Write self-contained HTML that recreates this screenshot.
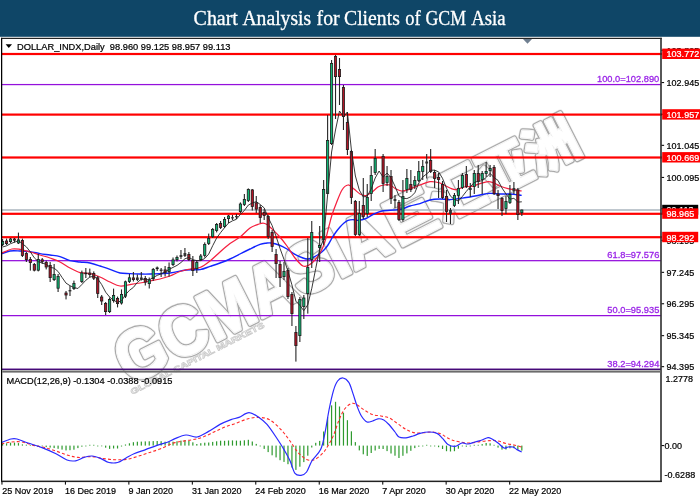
<!DOCTYPE html>
<html lang="en"><head><meta charset="utf-8"><title>Chart Analysis for Clients of GCM Asia</title>
<style>html,body{margin:0;padding:0;background:#fff;width:700px;height:500px;overflow:hidden}svg{display:block}text{font-family:"Liberation Sans","DejaVu Sans",sans-serif;font-size:9.6px;fill:#000;stroke:#000;stroke-width:.22px}.t{font-family:"Liberation Serif","DejaVu Serif",serif;font-size:20px;fill:#fff;stroke:#fff;stroke-width:.3px}.p{fill:#9b25e8;stroke:#9b25e8;stroke-width:.3px}.w{fill:#fff;stroke:#fff;stroke-width:.25px}.wm0,.wm,.wm2,.wm3,.wm4,.wm5{font-family:"Liberation Sans","Noto Sans CJK SC",sans-serif;font-weight:bold;stroke-linejoin:round}.wm0{fill:#ececec;stroke:#ececec;stroke-width:6.6px}.wm{fill:#a9a9a9;stroke:#a9a9a9;stroke-width:5.5px}.wm2{fill:#fff;stroke:#fff;stroke-width:3.1px}.wm4{fill:#ededed;stroke:#ededed;stroke-width:2px}.wm5{fill:#fff;stroke:#fff;stroke-width:.8px}.wm3{font-size:8px;fill:#fff;stroke:#cbcbcb;stroke-width:.75px}</style></head><body>
<svg width="700" height="500" viewBox="0 0 700 500">
<rect width="700" height="500" fill="#fff"/>
<rect width="700" height="36.8" fill="#0f4667"/>
<text class="t" x="193.6" y="25" textLength="44.3" lengthAdjust="spacingAndGlyphs">Chart</text>
<text class="t" x="242.4" y="25" textLength="68.8" lengthAdjust="spacingAndGlyphs">Analysis</text>
<text class="t" x="316.6" y="25" textLength="23.0" lengthAdjust="spacingAndGlyphs">for</text>
<text class="t" x="344.0" y="25" textLength="55.8" lengthAdjust="spacingAndGlyphs">Clients</text>
<text class="t" x="405.2" y="25" textLength="15.4" lengthAdjust="spacingAndGlyphs">of</text>
<text class="t" x="425.4" y="25" textLength="40.6" lengthAdjust="spacingAndGlyphs">GCM</text>
<text class="t" x="471.2" y="25" textLength="34.4" lengthAdjust="spacingAndGlyphs">Asia</text>
<g transform="translate(129.7,385.4) rotate(-27)">
<text class="wm0" x="0" y="0" style="font-size:70px" textLength="298" lengthAdjust="spacingAndGlyphs">GCMASIA</text>
<text class="wm0" x="300" y="-3" style="font-size:54px" textLength="211" lengthAdjust="spacingAndGlyphs">巨汇亚洲</text>
<text class="wm" x="0" y="0" style="font-size:70px" textLength="298" lengthAdjust="spacingAndGlyphs">GCMASIA</text>
<text class="wm" x="300" y="-3" style="font-size:54px" textLength="211" lengthAdjust="spacingAndGlyphs">巨汇亚洲</text>
<text class="wm2" x="0" y="0" style="font-size:70px" textLength="298" lengthAdjust="spacingAndGlyphs">GCMASIA</text>
<text class="wm2" x="300" y="-3" style="font-size:54px" textLength="211" lengthAdjust="spacingAndGlyphs">巨汇亚洲</text>
<text class="wm4" x="0" y="0" style="font-size:70px" textLength="298" lengthAdjust="spacingAndGlyphs">GCMASIA</text>
<text class="wm4" x="300" y="-3" style="font-size:54px" textLength="211" lengthAdjust="spacingAndGlyphs">巨汇亚洲</text>
<text class="wm5" x="0" y="0" style="font-size:70px" textLength="298" lengthAdjust="spacingAndGlyphs">GCMASIA</text>
<text class="wm5" x="300" y="-3" style="font-size:54px" textLength="211" lengthAdjust="spacingAndGlyphs">巨汇亚洲</text>
<text class="wm3" x="-2" y="9.5" textLength="149" lengthAdjust="spacingAndGlyphs">GLOBAL CAPITAL MARKETS</text>
</g>
<g shape-rendering="auto">
<rect x="2" y="209.3" width="659" height="1.4" fill="#a4afba"/>
<rect x="2" y="83.95" width="659" height="1.25" fill="#9410dc"/>
<rect x="2" y="260.05" width="659" height="1.25" fill="#9410dc"/>
<rect x="2" y="315.00" width="659" height="1.25" fill="#9410dc"/>
<rect x="2" y="368.75" width="659" height="1.25" fill="#9410dc"/>
<rect x="2" y="52.9" width="660" height="2.2" fill="#ff0000"/>
<rect x="2" y="113.5" width="660" height="2.2" fill="#ff0000"/>
<rect x="2" y="156.4" width="660" height="2.2" fill="#ff0000"/>
<rect x="2" y="212.7" width="660" height="2.2" fill="#ff0000"/>
<rect x="2" y="236.1" width="660" height="2.2" fill="#ff0000"/>
</g>
<path d="M2.0 253.6 C3.3 253.2 7.0 251.4 10.0 251.0 C13.0 250.6 16.7 250.9 20.0 251.0 C23.3 251.1 26.7 251.2 30.0 251.6 C33.3 252.0 36.7 253.0 40.0 253.6 C43.3 254.2 46.7 254.5 50.0 255.0 C53.3 255.5 56.7 255.7 60.0 256.6 C63.3 257.5 66.7 259.7 70.0 260.6 C73.3 261.5 76.7 261.6 80.0 262.0 C83.3 262.4 86.7 262.3 90.0 263.0 C93.3 263.7 96.7 264.9 100.0 266.0 C103.3 267.1 106.7 268.2 110.0 269.4 C113.3 270.6 116.7 272.3 120.0 273.0 C123.3 273.7 126.7 273.4 130.0 273.6 C133.3 273.8 136.7 273.9 140.0 274.0 C143.3 274.1 145.0 274.2 150.0 274.0 C155.0 273.8 164.0 273.7 170.0 273.0 C176.0 272.3 181.0 270.6 186.0 270.0 C191.0 269.4 196.0 270.2 200.0 269.6 C204.0 269.0 206.7 267.5 210.0 266.4 C213.3 265.3 216.7 264.2 220.0 263.0 C223.3 261.8 226.7 260.5 230.0 259.0 C233.3 257.5 236.7 255.7 240.0 254.0 C243.3 252.3 246.7 250.6 250.0 249.0 C253.3 247.4 257.3 245.4 260.0 244.4 C262.7 243.4 264.2 243.4 266.0 243.2 C267.8 243.0 268.8 242.7 271.0 243.0 C273.2 243.3 276.3 244.0 279.0 245.0 C281.7 246.0 284.3 247.4 287.0 249.0 C289.7 250.6 292.3 252.9 295.0 254.4 C297.7 255.9 300.8 257.2 303.0 258.0 C305.2 258.8 306.3 259.1 308.0 259.0 C309.7 258.9 311.2 258.3 313.0 257.5 C314.8 256.7 317.2 255.2 319.0 254.0 C320.8 252.8 322.5 251.5 324.0 250.0 C325.5 248.5 326.7 247.0 328.0 245.0 C329.3 243.0 330.7 240.2 332.0 238.0 C333.3 235.8 334.7 233.8 336.0 232.0 C337.3 230.2 338.7 228.5 340.0 227.0 C341.3 225.5 342.7 224.1 344.0 223.0 C345.3 221.9 346.5 221.0 348.0 220.4 C349.5 219.8 351.3 219.6 353.0 219.6 C354.7 219.6 355.8 220.6 358.0 220.4 C360.2 220.2 363.3 219.6 366.0 218.5 C368.7 217.4 371.3 215.2 374.0 214.0 C376.7 212.8 378.7 211.7 382.0 211.0 C385.3 210.3 390.7 210.3 394.0 210.0 C397.3 209.7 399.3 209.7 402.0 209.0 C404.7 208.3 407.0 206.9 410.0 206.0 C413.0 205.1 416.7 204.6 420.0 203.6 C423.3 202.6 426.7 200.8 430.0 200.0 C433.3 199.2 436.7 199.1 440.0 199.0 C443.3 198.9 446.7 199.7 450.0 199.6 C453.3 199.5 456.7 198.8 460.0 198.4 C463.3 198.0 466.7 197.6 470.0 197.0 C473.3 196.4 476.7 195.6 480.0 195.0 C483.3 194.4 486.7 193.6 490.0 193.4 C493.3 193.2 496.7 193.9 500.0 194.0 C503.3 194.1 506.4 193.8 510.0 194.0 C513.6 194.2 519.8 195.2 521.7 195.4" fill="none" stroke="#1224ff" stroke-width="1.4"/>
<path d="M2.0 253.0 C3.7 252.3 9.0 249.6 12.0 249.0 C15.0 248.4 17.0 248.9 20.0 249.4 C23.0 249.9 26.7 251.1 30.0 252.0 C33.3 252.9 36.7 254.0 40.0 255.0 C43.3 256.0 46.7 256.8 50.0 258.0 C53.3 259.2 56.7 260.3 60.0 262.0 C63.3 263.7 66.7 266.2 70.0 268.0 C73.3 269.8 76.7 271.7 80.0 272.6 C83.3 273.5 86.7 272.8 90.0 273.5 C93.3 274.2 96.7 275.6 100.0 277.0 C103.3 278.4 106.7 280.5 110.0 282.0 C113.3 283.5 116.7 285.6 120.0 286.0 C123.3 286.4 126.7 285.1 130.0 284.6 C133.3 284.1 136.7 283.6 140.0 283.0 C143.3 282.4 146.7 281.7 150.0 281.0 C153.3 280.3 156.7 279.8 160.0 279.0 C163.3 278.2 166.7 277.2 170.0 276.0 C173.3 274.8 176.7 272.7 180.0 271.5 C183.3 270.3 186.7 269.7 190.0 269.0 C193.3 268.3 196.7 268.8 200.0 267.5 C203.3 266.2 206.7 263.6 210.0 261.0 C213.3 258.4 216.7 254.9 220.0 252.0 C223.3 249.1 226.7 246.1 230.0 243.6 C233.3 241.1 236.7 239.6 240.0 237.0 C243.3 234.4 247.0 230.1 250.0 228.0 C253.0 225.9 255.8 225.2 258.0 224.4 C260.2 223.6 261.5 223.0 263.0 223.0 C264.5 223.0 265.7 223.7 267.0 224.5 C268.3 225.3 269.0 226.1 271.0 228.0 C273.0 229.9 276.3 233.0 279.0 236.0 C281.7 239.0 284.3 242.3 287.0 246.0 C289.7 249.7 292.3 254.7 295.0 258.0 C297.7 261.3 300.7 264.8 303.0 266.0 C305.3 267.2 307.0 266.0 309.0 265.0 C311.0 264.0 313.2 262.0 315.0 260.0 C316.8 258.0 318.7 255.2 320.0 253.0 C321.3 250.8 322.0 249.5 323.0 247.0 C324.0 244.5 325.0 241.5 326.0 238.0 C327.0 234.5 328.0 229.8 329.0 226.0 C330.0 222.2 330.8 218.7 332.0 215.0 C333.2 211.3 334.3 208.2 336.0 204.0 C337.7 199.8 340.0 193.2 342.0 190.0 C344.0 186.8 346.0 185.2 348.0 185.0 C350.0 184.8 352.0 187.5 354.0 189.0 C356.0 190.5 358.0 192.9 360.0 194.0 C362.0 195.1 364.0 195.9 366.0 195.6 C368.0 195.3 370.0 193.4 372.0 192.0 C374.0 190.6 376.0 188.2 378.0 187.0 C380.0 185.8 382.0 185.3 384.0 185.0 C386.0 184.7 388.0 184.3 390.0 185.0 C392.0 185.7 394.0 188.0 396.0 189.0 C398.0 190.0 399.7 191.0 402.0 191.0 C404.3 191.0 407.0 190.0 410.0 189.0 C413.0 188.0 416.7 186.2 420.0 185.0 C423.3 183.8 426.7 181.9 430.0 181.6 C433.3 181.3 436.7 181.9 440.0 183.0 C443.3 184.1 447.3 186.9 450.0 188.0 C452.7 189.1 453.7 189.8 456.0 189.6 C458.3 189.4 461.3 187.5 464.0 187.0 C466.7 186.5 469.3 187.0 472.0 186.4 C474.7 185.8 477.3 184.4 480.0 183.6 C482.7 182.8 485.7 181.7 488.0 181.6 C490.3 181.5 492.0 182.3 494.0 183.0 C496.0 183.7 497.7 185.1 500.0 186.0 C502.3 186.9 505.7 188.0 508.0 188.6 C510.3 189.2 511.7 189.2 514.0 189.6 C516.3 190.0 520.4 190.8 521.7 191.0" fill="none" stroke="#f5203f" stroke-width="1.25"/>
<rect x="2.05" y="239.0" width="1.1" height="7.0" fill="#262626"/>
<rect x="1.50" y="241.4" width="2.2" height="3.2" fill="#0fb573" stroke="#1c1c1c" stroke-width=".8"/>
<rect x="6.01" y="238.6" width="1.1" height="6.4" fill="#262626"/>
<rect x="5.46" y="241.0" width="2.2" height="2.6" fill="#b01426" stroke="#1c1c1c" stroke-width=".8"/>
<rect x="9.98" y="238.0" width="1.1" height="5.0" fill="#262626"/>
<rect x="9.43" y="239.0" width="2.2" height="2.6" fill="#0fb573" stroke="#1c1c1c" stroke-width=".8"/>
<rect x="13.94" y="238.0" width="1.1" height="4.6" fill="#262626"/>
<rect x="13.39" y="239.0" width="2.2" height="1.2" fill="#b01426" stroke="#1c1c1c" stroke-width=".8"/>
<rect x="17.90" y="232.6" width="1.1" height="11.4" fill="#262626"/>
<rect x="17.35" y="239.8" width="2.2" height="3.2" fill="#0fb573" stroke="#1c1c1c" stroke-width=".8"/>
<rect x="21.87" y="238.6" width="1.1" height="18.4" fill="#262626"/>
<rect x="21.32" y="240.4" width="2.2" height="15.2" fill="#b01426" stroke="#1c1c1c" stroke-width=".8"/>
<rect x="25.83" y="252.0" width="1.1" height="10.0" fill="#262626"/>
<rect x="25.28" y="253.4" width="2.2" height="6.2" fill="#b01426" stroke="#1c1c1c" stroke-width=".8"/>
<rect x="29.79" y="257.0" width="1.1" height="13.6" fill="#262626"/>
<rect x="29.24" y="259.4" width="2.2" height="3.2" fill="#b01426" stroke="#1c1c1c" stroke-width=".8"/>
<rect x="33.76" y="263.0" width="1.1" height="8.4" fill="#262626"/>
<rect x="33.21" y="264.4" width="2.2" height="5.8" fill="#b01426" stroke="#1c1c1c" stroke-width=".8"/>
<rect x="37.72" y="254.0" width="1.1" height="17.4" fill="#262626"/>
<rect x="37.17" y="259.4" width="2.2" height="10.8" fill="#0fb573" stroke="#1c1c1c" stroke-width=".8"/>
<rect x="41.69" y="258.0" width="1.1" height="6.0" fill="#262626"/>
<rect x="41.13" y="259.8" width="2.2" height="1.8" fill="#b01426" stroke="#1c1c1c" stroke-width=".8"/>
<rect x="45.65" y="260.6" width="1.1" height="8.8" fill="#262626"/>
<rect x="45.10" y="262.4" width="2.2" height="4.6" fill="#b01426" stroke="#1c1c1c" stroke-width=".8"/>
<rect x="49.61" y="262.0" width="1.1" height="20.0" fill="#262626"/>
<rect x="49.06" y="265.4" width="2.2" height="12.2" fill="#b01426" stroke="#1c1c1c" stroke-width=".8"/>
<rect x="53.58" y="264.0" width="1.1" height="17.0" fill="#262626"/>
<rect x="53.03" y="274.4" width="2.2" height="5.2" fill="#0fb573" stroke="#1c1c1c" stroke-width=".8"/>
<rect x="57.54" y="274.0" width="1.1" height="18.0" fill="#262626"/>
<rect x="56.99" y="276.4" width="2.2" height="11.8" fill="#0fb573" stroke="#1c1c1c" stroke-width=".8"/>
<rect x="65.47" y="291.0" width="1.1" height="8.4" fill="#262626"/>
<rect x="64.92" y="293.0" width="2.2" height="2.0" fill="#b01426" stroke="#1c1c1c" stroke-width=".8"/>
<rect x="69.43" y="286.0" width="1.1" height="10.0" fill="#262626"/>
<rect x="68.58" y="290.0" width="2.8" height="1.4" fill="#333"/>
<rect x="73.39" y="280.6" width="1.1" height="9.4" fill="#262626"/>
<rect x="72.84" y="283.4" width="2.2" height="5.2" fill="#0fb573" stroke="#1c1c1c" stroke-width=".8"/>
<rect x="81.32" y="270.6" width="1.1" height="12.4" fill="#262626"/>
<rect x="80.77" y="273.0" width="2.2" height="8.6" fill="#0fb573" stroke="#1c1c1c" stroke-width=".8"/>
<rect x="85.28" y="268.0" width="1.1" height="10.0" fill="#262626"/>
<rect x="84.73" y="273.0" width="2.2" height="0.8" fill="#b01426" stroke="#1c1c1c" stroke-width=".8"/>
<rect x="89.25" y="268.6" width="1.1" height="8.8" fill="#262626"/>
<rect x="88.70" y="273.0" width="2.2" height="1.6" fill="#b01426" stroke="#1c1c1c" stroke-width=".8"/>
<rect x="93.21" y="271.4" width="1.1" height="8.6" fill="#262626"/>
<rect x="92.66" y="273.4" width="2.2" height="4.8" fill="#b01426" stroke="#1c1c1c" stroke-width=".8"/>
<rect x="97.17" y="276.0" width="1.1" height="22.0" fill="#262626"/>
<rect x="96.62" y="277.8" width="2.2" height="15.8" fill="#b01426" stroke="#1c1c1c" stroke-width=".8"/>
<rect x="101.14" y="295.0" width="1.1" height="10.0" fill="#262626"/>
<rect x="100.59" y="297.0" width="2.2" height="4.0" fill="#b01426" stroke="#1c1c1c" stroke-width=".8"/>
<rect x="105.10" y="302.0" width="1.1" height="13.0" fill="#262626"/>
<rect x="104.55" y="303.4" width="2.2" height="8.2" fill="#b01426" stroke="#1c1c1c" stroke-width=".8"/>
<rect x="109.06" y="297.4" width="1.1" height="15.6" fill="#262626"/>
<rect x="108.51" y="299.4" width="2.2" height="12.2" fill="#0fb573" stroke="#1c1c1c" stroke-width=".8"/>
<rect x="113.03" y="288.6" width="1.1" height="14.0" fill="#262626"/>
<rect x="112.48" y="295.4" width="2.2" height="5.2" fill="#0fb573" stroke="#1c1c1c" stroke-width=".8"/>
<rect x="116.99" y="296.6" width="1.1" height="10.8" fill="#262626"/>
<rect x="116.44" y="298.4" width="2.2" height="5.2" fill="#b01426" stroke="#1c1c1c" stroke-width=".8"/>
<rect x="120.95" y="289.4" width="1.1" height="15.2" fill="#262626"/>
<rect x="120.41" y="294.4" width="2.2" height="8.6" fill="#0fb573" stroke="#1c1c1c" stroke-width=".8"/>
<rect x="124.92" y="280.6" width="1.1" height="17.4" fill="#262626"/>
<rect x="124.37" y="281.8" width="2.2" height="14.4" fill="#0fb573" stroke="#1c1c1c" stroke-width=".8"/>
<rect x="128.88" y="274.0" width="1.1" height="9.0" fill="#262626"/>
<rect x="128.33" y="277.8" width="2.2" height="3.8" fill="#0fb573" stroke="#1c1c1c" stroke-width=".8"/>
<rect x="132.85" y="272.0" width="1.1" height="9.5" fill="#262626"/>
<rect x="132.30" y="277.9" width="2.2" height="1.7" fill="#b01426" stroke="#1c1c1c" stroke-width=".8"/>
<rect x="136.81" y="274.5" width="1.1" height="6.5" fill="#262626"/>
<rect x="135.96" y="277.5" width="2.8" height="2.5" fill="#333"/>
<rect x="140.77" y="272.0" width="1.1" height="8.5" fill="#262626"/>
<rect x="139.92" y="277.5" width="2.8" height="2.0" fill="#333"/>
<rect x="144.74" y="276.0" width="1.1" height="9.5" fill="#262626"/>
<rect x="144.19" y="278.4" width="2.2" height="3.7" fill="#b01426" stroke="#1c1c1c" stroke-width=".8"/>
<rect x="148.70" y="277.5" width="1.1" height="11.0" fill="#262626"/>
<rect x="148.15" y="279.9" width="2.2" height="3.7" fill="#0fb573" stroke="#1c1c1c" stroke-width=".8"/>
<rect x="152.66" y="268.0" width="1.1" height="13.0" fill="#262626"/>
<rect x="152.11" y="269.4" width="2.2" height="9.2" fill="#0fb573" stroke="#1c1c1c" stroke-width=".8"/>
<rect x="156.63" y="266.5" width="1.1" height="4.5" fill="#262626"/>
<rect x="156.08" y="267.9" width="2.2" height="0.8" fill="#0fb573" stroke="#1c1c1c" stroke-width=".8"/>
<rect x="160.59" y="268.0" width="1.1" height="9.0" fill="#262626"/>
<rect x="159.74" y="269.5" width="2.8" height="1.5" fill="#333"/>
<rect x="164.55" y="266.0" width="1.1" height="10.5" fill="#262626"/>
<rect x="164.00" y="269.9" width="2.2" height="2.7" fill="#b01426" stroke="#1c1c1c" stroke-width=".8"/>
<rect x="168.52" y="262.5" width="1.1" height="14.0" fill="#262626"/>
<rect x="167.97" y="267.4" width="2.2" height="4.2" fill="#0fb573" stroke="#1c1c1c" stroke-width=".8"/>
<rect x="172.48" y="257.5" width="1.1" height="8.5" fill="#262626"/>
<rect x="171.93" y="259.9" width="2.2" height="4.7" fill="#0fb573" stroke="#1c1c1c" stroke-width=".8"/>
<rect x="176.44" y="255.5" width="1.1" height="6.0" fill="#262626"/>
<rect x="175.89" y="257.4" width="2.2" height="2.2" fill="#0fb573" stroke="#1c1c1c" stroke-width=".8"/>
<rect x="180.41" y="250.0" width="1.1" height="9.0" fill="#262626"/>
<rect x="179.56" y="255.0" width="2.8" height="2.0" fill="#333"/>
<rect x="184.37" y="248.0" width="1.1" height="9.0" fill="#262626"/>
<rect x="183.52" y="253.0" width="2.8" height="3.0" fill="#333"/>
<rect x="188.33" y="252.0" width="1.1" height="9.0" fill="#262626"/>
<rect x="187.78" y="254.4" width="2.2" height="5.2" fill="#b01426" stroke="#1c1c1c" stroke-width=".8"/>
<rect x="192.30" y="256.0" width="1.1" height="20.0" fill="#262626"/>
<rect x="191.75" y="260.4" width="2.2" height="10.2" fill="#b01426" stroke="#1c1c1c" stroke-width=".8"/>
<rect x="196.26" y="260.0" width="1.1" height="13.0" fill="#262626"/>
<rect x="195.71" y="262.4" width="2.2" height="6.2" fill="#0fb573" stroke="#1c1c1c" stroke-width=".8"/>
<rect x="200.22" y="254.0" width="1.1" height="7.0" fill="#262626"/>
<rect x="199.67" y="256.0" width="2.2" height="3.6" fill="#0fb573" stroke="#1c1c1c" stroke-width=".8"/>
<rect x="204.19" y="242.4" width="1.1" height="15.2" fill="#262626"/>
<rect x="203.64" y="244.4" width="2.2" height="11.2" fill="#0fb573" stroke="#1c1c1c" stroke-width=".8"/>
<rect x="208.15" y="233.6" width="1.1" height="11.4" fill="#262626"/>
<rect x="207.60" y="238.4" width="2.2" height="5.2" fill="#0fb573" stroke="#1c1c1c" stroke-width=".8"/>
<rect x="212.12" y="228.0" width="1.1" height="10.0" fill="#262626"/>
<rect x="211.57" y="229.4" width="2.2" height="7.2" fill="#0fb573" stroke="#1c1c1c" stroke-width=".8"/>
<rect x="216.08" y="223.0" width="1.1" height="9.4" fill="#262626"/>
<rect x="215.53" y="224.4" width="2.2" height="6.2" fill="#0fb573" stroke="#1c1c1c" stroke-width=".8"/>
<rect x="220.04" y="221.0" width="1.1" height="8.0" fill="#262626"/>
<rect x="219.49" y="223.4" width="2.2" height="4.2" fill="#b01426" stroke="#1c1c1c" stroke-width=".8"/>
<rect x="224.01" y="217.0" width="1.1" height="11.0" fill="#262626"/>
<rect x="223.46" y="219.4" width="2.2" height="7.2" fill="#0fb573" stroke="#1c1c1c" stroke-width=".8"/>
<rect x="227.97" y="215.0" width="1.1" height="8.0" fill="#262626"/>
<rect x="227.42" y="216.0" width="2.2" height="2.6" fill="#0fb573" stroke="#1c1c1c" stroke-width=".8"/>
<rect x="231.93" y="215.0" width="1.1" height="5.0" fill="#262626"/>
<rect x="231.08" y="217.2" width="2.8" height="1.2" fill="#333"/>
<rect x="235.90" y="214.0" width="1.1" height="5.0" fill="#262626"/>
<rect x="235.05" y="216.0" width="2.8" height="1.2" fill="#333"/>
<rect x="239.86" y="202.4" width="1.1" height="10.6" fill="#262626"/>
<rect x="239.31" y="204.0" width="2.2" height="7.6" fill="#0fb573" stroke="#1c1c1c" stroke-width=".8"/>
<rect x="243.82" y="194.0" width="1.1" height="12.0" fill="#262626"/>
<rect x="243.27" y="199.4" width="2.2" height="5.2" fill="#0fb573" stroke="#1c1c1c" stroke-width=".8"/>
<rect x="247.79" y="188.4" width="1.1" height="13.6" fill="#262626"/>
<rect x="247.24" y="189.4" width="2.2" height="11.2" fill="#0fb573" stroke="#1c1c1c" stroke-width=".8"/>
<rect x="251.75" y="189.0" width="1.1" height="21.5" fill="#262626"/>
<rect x="251.20" y="189.9" width="2.2" height="16.7" fill="#b01426" stroke="#1c1c1c" stroke-width=".8"/>
<rect x="255.71" y="196.0" width="1.1" height="17.0" fill="#262626"/>
<rect x="255.16" y="202.9" width="2.2" height="6.2" fill="#b01426" stroke="#1c1c1c" stroke-width=".8"/>
<rect x="259.68" y="205.0" width="1.1" height="18.0" fill="#262626"/>
<rect x="259.13" y="207.4" width="2.2" height="10.2" fill="#b01426" stroke="#1c1c1c" stroke-width=".8"/>
<rect x="263.64" y="209.0" width="1.1" height="11.0" fill="#262626"/>
<rect x="263.09" y="212.4" width="2.2" height="3.2" fill="#b01426" stroke="#1c1c1c" stroke-width=".8"/>
<rect x="267.60" y="215.0" width="1.1" height="24.0" fill="#262626"/>
<rect x="267.05" y="216.4" width="2.2" height="20.2" fill="#b01426" stroke="#1c1c1c" stroke-width=".8"/>
<rect x="271.57" y="230.0" width="1.1" height="22.0" fill="#262626"/>
<rect x="271.02" y="232.4" width="2.2" height="14.2" fill="#b01426" stroke="#1c1c1c" stroke-width=".8"/>
<rect x="275.53" y="249.0" width="1.1" height="29.0" fill="#262626"/>
<rect x="274.98" y="254.4" width="2.2" height="9.2" fill="#b01426" stroke="#1c1c1c" stroke-width=".8"/>
<rect x="279.50" y="261.0" width="1.1" height="26.0" fill="#262626"/>
<rect x="278.94" y="264.4" width="2.2" height="13.2" fill="#b01426" stroke="#1c1c1c" stroke-width=".8"/>
<rect x="283.46" y="262.0" width="1.1" height="18.0" fill="#262626"/>
<rect x="282.91" y="271.4" width="2.2" height="5.2" fill="#0fb573" stroke="#1c1c1c" stroke-width=".8"/>
<rect x="287.42" y="268.0" width="1.1" height="31.0" fill="#262626"/>
<rect x="286.87" y="270.4" width="2.2" height="26.2" fill="#b01426" stroke="#1c1c1c" stroke-width=".8"/>
<rect x="291.39" y="292.0" width="1.1" height="34.0" fill="#262626"/>
<rect x="290.84" y="294.4" width="2.2" height="19.2" fill="#b01426" stroke="#1c1c1c" stroke-width=".8"/>
<rect x="295.35" y="326.0" width="1.1" height="35.6" fill="#262626"/>
<rect x="294.80" y="332.4" width="2.2" height="13.2" fill="#b01426" stroke="#1c1c1c" stroke-width=".8"/>
<rect x="299.31" y="297.0" width="1.1" height="45.0" fill="#262626"/>
<rect x="298.76" y="299.4" width="2.2" height="36.2" fill="#0fb573" stroke="#1c1c1c" stroke-width=".8"/>
<rect x="303.28" y="295.0" width="1.1" height="24.0" fill="#262626"/>
<rect x="302.73" y="298.0" width="2.2" height="8.6" fill="#0fb573" stroke="#1c1c1c" stroke-width=".8"/>
<rect x="307.24" y="238.0" width="1.1" height="75.6" fill="#262626"/>
<rect x="306.69" y="267.4" width="2.2" height="26.2" fill="#0fb573" stroke="#1c1c1c" stroke-width=".8"/>
<rect x="311.20" y="221.0" width="1.1" height="47.0" fill="#262626"/>
<rect x="310.65" y="232.4" width="2.2" height="27.2" fill="#0fb573" stroke="#1c1c1c" stroke-width=".8"/>
<rect x="319.13" y="226.0" width="1.1" height="36.0" fill="#262626"/>
<rect x="318.58" y="245.4" width="2.2" height="2.2" fill="#0fb573" stroke="#1c1c1c" stroke-width=".8"/>
<rect x="323.09" y="180.0" width="1.1" height="65.0" fill="#262626"/>
<rect x="322.54" y="189.4" width="2.2" height="50.2" fill="#0fb573" stroke="#1c1c1c" stroke-width=".8"/>
<rect x="327.06" y="115.0" width="1.1" height="79.0" fill="#262626"/>
<rect x="326.51" y="140.4" width="2.2" height="53.2" fill="#0fb573" stroke="#1c1c1c" stroke-width=".8"/>
<rect x="331.02" y="60.0" width="1.1" height="85.0" fill="#262626"/>
<rect x="330.47" y="63.4" width="2.2" height="80.2" fill="#0fb573" stroke="#1c1c1c" stroke-width=".8"/>
<rect x="334.98" y="55.0" width="1.1" height="64.0" fill="#262626"/>
<rect x="334.43" y="56.4" width="2.2" height="20.2" fill="#b01426" stroke="#1c1c1c" stroke-width=".8"/>
<rect x="338.95" y="58.0" width="1.1" height="47.0" fill="#262626"/>
<rect x="338.40" y="69.4" width="2.2" height="7.2" fill="#b01426" stroke="#1c1c1c" stroke-width=".8"/>
<rect x="342.91" y="85.0" width="1.1" height="45.0" fill="#262626"/>
<rect x="342.36" y="87.4" width="2.2" height="29.2" fill="#b01426" stroke="#1c1c1c" stroke-width=".8"/>
<rect x="346.87" y="112.0" width="1.1" height="43.0" fill="#262626"/>
<rect x="346.32" y="122.4" width="2.2" height="27.2" fill="#b01426" stroke="#1c1c1c" stroke-width=".8"/>
<rect x="350.84" y="150.0" width="1.1" height="54.0" fill="#262626"/>
<rect x="350.29" y="151.4" width="2.2" height="46.2" fill="#b01426" stroke="#1c1c1c" stroke-width=".8"/>
<rect x="354.80" y="200.0" width="1.1" height="36.0" fill="#262626"/>
<rect x="354.25" y="201.4" width="2.2" height="33.2" fill="#b01426" stroke="#1c1c1c" stroke-width=".8"/>
<rect x="358.76" y="201.0" width="1.1" height="35.0" fill="#262626"/>
<rect x="358.21" y="213.4" width="2.2" height="21.2" fill="#0fb573" stroke="#1c1c1c" stroke-width=".8"/>
<rect x="362.73" y="178.0" width="1.1" height="41.0" fill="#262626"/>
<rect x="362.18" y="205.4" width="2.2" height="11.2" fill="#b01426" stroke="#1c1c1c" stroke-width=".8"/>
<rect x="366.69" y="184.0" width="1.1" height="33.0" fill="#262626"/>
<rect x="366.14" y="197.4" width="2.2" height="16.2" fill="#0fb573" stroke="#1c1c1c" stroke-width=".8"/>
<rect x="370.66" y="166.0" width="1.1" height="35.0" fill="#262626"/>
<rect x="370.11" y="175.4" width="2.2" height="18.2" fill="#0fb573" stroke="#1c1c1c" stroke-width=".8"/>
<rect x="374.62" y="149.0" width="1.1" height="26.0" fill="#262626"/>
<rect x="374.07" y="158.4" width="2.2" height="14.2" fill="#0fb573" stroke="#1c1c1c" stroke-width=".8"/>
<rect x="382.55" y="154.0" width="1.1" height="38.0" fill="#262626"/>
<rect x="382.00" y="156.4" width="2.2" height="27.2" fill="#b01426" stroke="#1c1c1c" stroke-width=".8"/>
<rect x="386.51" y="166.0" width="1.1" height="20.0" fill="#262626"/>
<rect x="385.96" y="176.4" width="2.2" height="6.2" fill="#0fb573" stroke="#1c1c1c" stroke-width=".8"/>
<rect x="390.47" y="170.0" width="1.1" height="34.0" fill="#262626"/>
<rect x="389.92" y="176.4" width="2.2" height="22.2" fill="#b01426" stroke="#1c1c1c" stroke-width=".8"/>
<rect x="394.44" y="195.0" width="1.1" height="13.0" fill="#262626"/>
<rect x="393.59" y="199.0" width="2.8" height="2.0" fill="#333"/>
<rect x="398.40" y="200.0" width="1.1" height="21.0" fill="#262626"/>
<rect x="397.85" y="202.4" width="2.2" height="17.2" fill="#b01426" stroke="#1c1c1c" stroke-width=".8"/>
<rect x="402.36" y="180.0" width="1.1" height="41.6" fill="#262626"/>
<rect x="401.81" y="196.4" width="2.2" height="23.2" fill="#0fb573" stroke="#1c1c1c" stroke-width=".8"/>
<rect x="406.33" y="169.0" width="1.1" height="24.0" fill="#262626"/>
<rect x="405.78" y="178.4" width="2.2" height="11.2" fill="#0fb573" stroke="#1c1c1c" stroke-width=".8"/>
<rect x="410.29" y="170.0" width="1.1" height="22.0" fill="#262626"/>
<rect x="409.74" y="184.4" width="2.2" height="5.2" fill="#b01426" stroke="#1c1c1c" stroke-width=".8"/>
<rect x="414.25" y="176.0" width="1.1" height="13.0" fill="#262626"/>
<rect x="413.70" y="180.4" width="2.2" height="5.2" fill="#0fb573" stroke="#1c1c1c" stroke-width=".8"/>
<rect x="418.22" y="161.0" width="1.1" height="21.0" fill="#262626"/>
<rect x="417.67" y="171.4" width="2.2" height="9.2" fill="#0fb573" stroke="#1c1c1c" stroke-width=".8"/>
<rect x="422.18" y="160.0" width="1.1" height="20.0" fill="#262626"/>
<rect x="421.63" y="166.4" width="2.2" height="5.2" fill="#0fb573" stroke="#1c1c1c" stroke-width=".8"/>
<rect x="426.14" y="154.0" width="1.1" height="24.5" fill="#262626"/>
<rect x="425.29" y="161.5" width="2.8" height="2.0" fill="#333"/>
<rect x="430.11" y="149.0" width="1.1" height="24.0" fill="#262626"/>
<rect x="429.56" y="160.4" width="2.2" height="11.2" fill="#b01426" stroke="#1c1c1c" stroke-width=".8"/>
<rect x="434.07" y="170.0" width="1.1" height="18.0" fill="#262626"/>
<rect x="433.52" y="172.4" width="2.2" height="6.2" fill="#b01426" stroke="#1c1c1c" stroke-width=".8"/>
<rect x="438.03" y="173.0" width="1.1" height="25.0" fill="#262626"/>
<rect x="437.48" y="177.4" width="2.2" height="2.2" fill="#b01426" stroke="#1c1c1c" stroke-width=".8"/>
<rect x="442.00" y="181.0" width="1.1" height="18.0" fill="#262626"/>
<rect x="441.45" y="184.4" width="2.2" height="13.2" fill="#b01426" stroke="#1c1c1c" stroke-width=".8"/>
<rect x="445.96" y="190.0" width="1.1" height="32.0" fill="#262626"/>
<rect x="445.41" y="196.4" width="2.2" height="15.2" fill="#b01426" stroke="#1c1c1c" stroke-width=".8"/>
<rect x="449.93" y="208.0" width="1.1" height="16.0" fill="#262626"/>
<rect x="449.08" y="210.0" width="2.8" height="4.0" fill="#333"/>
<rect x="453.89" y="193.0" width="1.1" height="14.0" fill="#262626"/>
<rect x="453.34" y="195.4" width="2.2" height="10.2" fill="#0fb573" stroke="#1c1c1c" stroke-width=".8"/>
<rect x="457.85" y="180.0" width="1.1" height="24.0" fill="#262626"/>
<rect x="457.30" y="188.4" width="2.2" height="7.2" fill="#0fb573" stroke="#1c1c1c" stroke-width=".8"/>
<rect x="461.82" y="173.0" width="1.1" height="16.0" fill="#262626"/>
<rect x="461.27" y="175.4" width="2.2" height="12.2" fill="#0fb573" stroke="#1c1c1c" stroke-width=".8"/>
<rect x="465.78" y="166.0" width="1.1" height="22.0" fill="#262626"/>
<rect x="465.23" y="174.4" width="2.2" height="12.2" fill="#b01426" stroke="#1c1c1c" stroke-width=".8"/>
<rect x="469.74" y="183.0" width="1.1" height="14.0" fill="#262626"/>
<rect x="468.89" y="188.0" width="2.8" height="2.0" fill="#333"/>
<rect x="473.71" y="170.0" width="1.1" height="24.0" fill="#262626"/>
<rect x="473.16" y="173.4" width="2.2" height="13.2" fill="#0fb573" stroke="#1c1c1c" stroke-width=".8"/>
<rect x="477.67" y="165.0" width="1.1" height="23.0" fill="#262626"/>
<rect x="477.12" y="173.4" width="2.2" height="8.2" fill="#b01426" stroke="#1c1c1c" stroke-width=".8"/>
<rect x="481.63" y="171.0" width="1.1" height="23.0" fill="#262626"/>
<rect x="481.08" y="173.4" width="2.2" height="6.2" fill="#0fb573" stroke="#1c1c1c" stroke-width=".8"/>
<rect x="485.60" y="162.0" width="1.1" height="15.0" fill="#262626"/>
<rect x="485.05" y="171.4" width="2.2" height="2.2" fill="#0fb573" stroke="#1c1c1c" stroke-width=".8"/>
<rect x="489.56" y="165.0" width="1.1" height="12.0" fill="#262626"/>
<rect x="489.01" y="168.4" width="2.2" height="2.2" fill="#0fb573" stroke="#1c1c1c" stroke-width=".8"/>
<rect x="493.52" y="165.0" width="1.1" height="30.0" fill="#262626"/>
<rect x="492.97" y="167.4" width="2.2" height="26.2" fill="#b01426" stroke="#1c1c1c" stroke-width=".8"/>
<rect x="497.49" y="190.0" width="1.1" height="19.0" fill="#262626"/>
<rect x="496.94" y="194.0" width="2.2" height="1.6" fill="#b01426" stroke="#1c1c1c" stroke-width=".8"/>
<rect x="501.45" y="197.0" width="1.1" height="19.0" fill="#262626"/>
<rect x="500.90" y="198.4" width="2.2" height="12.2" fill="#b01426" stroke="#1c1c1c" stroke-width=".8"/>
<rect x="505.41" y="196.0" width="1.1" height="18.0" fill="#262626"/>
<rect x="504.86" y="201.4" width="2.2" height="7.2" fill="#0fb573" stroke="#1c1c1c" stroke-width=".8"/>
<rect x="509.38" y="185.0" width="1.1" height="19.0" fill="#262626"/>
<rect x="508.83" y="194.4" width="2.2" height="8.2" fill="#0fb573" stroke="#1c1c1c" stroke-width=".8"/>
<rect x="513.34" y="182.0" width="1.1" height="12.0" fill="#262626"/>
<rect x="512.49" y="188.0" width="2.8" height="3.0" fill="#333"/>
<rect x="517.31" y="188.0" width="1.1" height="32.0" fill="#262626"/>
<rect x="516.75" y="190.0" width="2.2" height="24.6" fill="#b01426" stroke="#1c1c1c" stroke-width=".8"/>
<rect x="521.27" y="209.6" width="1.1" height="6.4" fill="#262626"/>
<rect x="520.72" y="210.0" width="2.2" height="2.6" fill="#0fb573" stroke="#1c1c1c" stroke-width=".8"/>
<polyline points="2.6,247.0 6.6,245.8 10.5,243.7 14.5,242.2 18.5,240.7 22.4,243.7 26.4,246.9 30.3,251.8 34.3,257.8 38.3,261.7 42.2,262.9 46.2,264.4 50.2,267.4 54.1,268.1 58.1,271.5 62.1,277.5 66.0,283.1 70.0,285.7 73.9,287.5 77.9,288.5 81.9,284.5 85.8,280.3 89.8,277.1 93.8,276.2 97.7,278.8 101.7,284.6 105.7,292.2 109.6,297.0 113.6,300.3 117.5,302.3 121.5,300.8 125.5,294.7 129.4,290.4 133.4,287.4 137.4,282.3 141.3,279.2 145.3,279.4 149.2,279.9 153.2,277.6 157.2,275.4 161.1,273.8 165.1,271.9 169.1,269.4 173.0,267.4 177.0,265.4 181.0,262.5 184.9,258.8 188.9,257.4 192.8,259.7 196.8,260.7 200.8,260.6 204.7,258.5 208.7,254.1 212.7,245.7 216.6,238.1 220.6,232.6 224.6,227.6 228.5,223.1 232.5,220.8 236.4,219.3 240.4,214.4 244.4,210.4 248.3,205.1 252.3,203.0 256.3,201.6 260.2,204.5 264.2,207.9 268.2,217.5 272.1,225.5 276.1,236.4 280.0,248.4 284.0,259.4 288.0,271.4 291.9,284.8 295.9,301.2 299.9,305.4 303.8,310.7 307.8,304.7 311.8,288.3 315.7,268.6 319.7,249.0 323.6,239.0 327.6,195.0 331.6,152.0 335.5,130.0 339.5,111.0 343.5,117.0 347.4,112.0 351.4,150.0 355.4,176.0 359.3,190.0 363.3,197.0 367.2,196.0 371.2,189.0 375.2,178.0 379.1,171.0 383.1,177.2 387.1,173.0 391.0,177.8 395.0,186.2 398.9,195.8 402.9,198.2 406.9,198.6 410.8,196.8 414.8,192.8 418.8,183.0 422.7,177.0 426.7,173.9 430.7,170.3 434.6,170.1 438.6,171.9 442.5,178.3 446.5,188.2 450.5,196.2 454.4,199.4 458.4,201.0 462.4,196.4 466.3,191.4 470.3,186.8 474.3,182.4 478.2,181.2 482.2,180.8 486.1,177.6 490.1,173.4 494.1,177.6 498.0,180.4 502.0,188.0 506.0,194.0 509.9,199.2 513.9,198.3 517.9,202.1 521.8,201.8" fill="none" stroke="#222" stroke-width=".9" stroke-linejoin="round"/>
<rect x="2.00" y="444.0" width="1.2" height="1.6" fill="#2e9a2e"/>
<rect x="5.96" y="443.3" width="1.2" height="2.3" fill="#2e9a2e"/>
<rect x="9.93" y="442.7" width="1.2" height="2.9" fill="#2e9a2e"/>
<rect x="13.89" y="442.6" width="1.2" height="3.0" fill="#2e9a2e"/>
<rect x="17.85" y="443.1" width="1.2" height="2.5" fill="#2e9a2e"/>
<rect x="21.82" y="444.4" width="1.2" height="1.2" fill="#2e9a2e"/>
<rect x="25.78" y="444.7" width="1.2" height="0.9" fill="#2e9a2e"/>
<rect x="29.74" y="444.9" width="1.2" height="0.7" fill="#2e9a2e"/>
<rect x="33.71" y="444.8" width="1.2" height="0.8" fill="#2e9a2e"/>
<rect x="37.67" y="445.6" width="1.2" height="0.8" fill="#2e9a2e"/>
<rect x="41.63" y="445.6" width="1.2" height="0.6" fill="#2e9a2e"/>
<rect x="45.60" y="445.6" width="1.2" height="1.5" fill="#2e9a2e"/>
<rect x="49.56" y="445.6" width="1.2" height="2.0" fill="#2e9a2e"/>
<rect x="53.53" y="445.6" width="1.2" height="2.5" fill="#2e9a2e"/>
<rect x="57.49" y="445.6" width="1.2" height="3.2" fill="#2e9a2e"/>
<rect x="61.45" y="445.6" width="1.2" height="4.0" fill="#2e9a2e"/>
<rect x="65.42" y="445.6" width="1.2" height="4.8" fill="#2e9a2e"/>
<rect x="69.38" y="445.6" width="1.2" height="4.6" fill="#2e9a2e"/>
<rect x="73.34" y="445.6" width="1.2" height="4.1" fill="#2e9a2e"/>
<rect x="77.31" y="445.6" width="1.2" height="2.5" fill="#2e9a2e"/>
<rect x="81.27" y="445.6" width="1.2" height="1.1" fill="#2e9a2e"/>
<rect x="85.23" y="445.6" width="1.2" height="0.8" fill="#2e9a2e"/>
<rect x="89.20" y="444.8" width="1.2" height="0.8" fill="#2e9a2e"/>
<rect x="93.16" y="444.8" width="1.2" height="0.8" fill="#2e9a2e"/>
<rect x="97.12" y="445.6" width="1.2" height="0.8" fill="#2e9a2e"/>
<rect x="101.09" y="445.6" width="1.2" height="0.7" fill="#2e9a2e"/>
<rect x="105.05" y="445.6" width="1.2" height="2.1" fill="#2e9a2e"/>
<rect x="109.01" y="445.6" width="1.2" height="3.3" fill="#2e9a2e"/>
<rect x="112.98" y="445.6" width="1.2" height="2.9" fill="#2e9a2e"/>
<rect x="116.94" y="445.6" width="1.2" height="2.9" fill="#2e9a2e"/>
<rect x="120.91" y="445.6" width="1.2" height="0.9" fill="#2e9a2e"/>
<rect x="124.87" y="444.5" width="1.2" height="1.1" fill="#2e9a2e"/>
<rect x="128.83" y="443.3" width="1.2" height="2.3" fill="#2e9a2e"/>
<rect x="132.80" y="442.2" width="1.2" height="3.4" fill="#2e9a2e"/>
<rect x="136.76" y="441.7" width="1.2" height="3.9" fill="#2e9a2e"/>
<rect x="140.72" y="441.6" width="1.2" height="4.0" fill="#2e9a2e"/>
<rect x="144.69" y="441.4" width="1.2" height="4.2" fill="#2e9a2e"/>
<rect x="148.65" y="441.3" width="1.2" height="4.3" fill="#2e9a2e"/>
<rect x="152.61" y="441.1" width="1.2" height="4.5" fill="#2e9a2e"/>
<rect x="156.58" y="441.0" width="1.2" height="4.6" fill="#2e9a2e"/>
<rect x="160.54" y="441.2" width="1.2" height="4.4" fill="#2e9a2e"/>
<rect x="164.50" y="441.7" width="1.2" height="3.9" fill="#2e9a2e"/>
<rect x="168.47" y="442.0" width="1.2" height="3.6" fill="#2e9a2e"/>
<rect x="172.43" y="441.7" width="1.2" height="3.9" fill="#2e9a2e"/>
<rect x="176.39" y="441.3" width="1.2" height="4.3" fill="#2e9a2e"/>
<rect x="180.36" y="440.6" width="1.2" height="5.0" fill="#2e9a2e"/>
<rect x="184.32" y="440.0" width="1.2" height="5.6" fill="#2e9a2e"/>
<rect x="188.28" y="440.8" width="1.2" height="4.8" fill="#2e9a2e"/>
<rect x="192.25" y="442.3" width="1.2" height="3.3" fill="#2e9a2e"/>
<rect x="196.21" y="444.0" width="1.2" height="1.6" fill="#2e9a2e"/>
<rect x="200.17" y="443.2" width="1.2" height="2.4" fill="#2e9a2e"/>
<rect x="204.14" y="442.7" width="1.2" height="2.9" fill="#2e9a2e"/>
<rect x="208.10" y="442.5" width="1.2" height="3.1" fill="#2e9a2e"/>
<rect x="212.07" y="441.9" width="1.2" height="3.7" fill="#2e9a2e"/>
<rect x="216.03" y="441.3" width="1.2" height="4.3" fill="#2e9a2e"/>
<rect x="219.99" y="440.7" width="1.2" height="4.9" fill="#2e9a2e"/>
<rect x="223.96" y="440.8" width="1.2" height="4.8" fill="#2e9a2e"/>
<rect x="227.92" y="440.5" width="1.2" height="5.1" fill="#2e9a2e"/>
<rect x="231.88" y="440.4" width="1.2" height="5.2" fill="#2e9a2e"/>
<rect x="235.85" y="440.6" width="1.2" height="5.0" fill="#2e9a2e"/>
<rect x="239.81" y="440.7" width="1.2" height="4.9" fill="#2e9a2e"/>
<rect x="243.77" y="440.3" width="1.2" height="5.3" fill="#2e9a2e"/>
<rect x="247.74" y="439.8" width="1.2" height="5.8" fill="#2e9a2e"/>
<rect x="251.70" y="441.5" width="1.2" height="4.1" fill="#2e9a2e"/>
<rect x="255.66" y="443.9" width="1.2" height="1.7" fill="#2e9a2e"/>
<rect x="259.63" y="445.6" width="1.2" height="0.8" fill="#2e9a2e"/>
<rect x="263.59" y="445.6" width="1.2" height="3.3" fill="#2e9a2e"/>
<rect x="267.55" y="445.6" width="1.2" height="6.5" fill="#2e9a2e"/>
<rect x="271.52" y="445.6" width="1.2" height="9.7" fill="#2e9a2e"/>
<rect x="275.48" y="445.6" width="1.2" height="11.8" fill="#2e9a2e"/>
<rect x="279.44" y="445.6" width="1.2" height="14.6" fill="#2e9a2e"/>
<rect x="283.41" y="445.6" width="1.2" height="16.3" fill="#2e9a2e"/>
<rect x="287.37" y="445.6" width="1.2" height="18.6" fill="#2e9a2e"/>
<rect x="291.34" y="445.6" width="1.2" height="21.9" fill="#2e9a2e"/>
<rect x="295.30" y="445.6" width="1.2" height="24.3" fill="#2e9a2e"/>
<rect x="299.26" y="445.6" width="1.2" height="21.1" fill="#2e9a2e"/>
<rect x="303.23" y="445.6" width="1.2" height="16.5" fill="#2e9a2e"/>
<rect x="307.19" y="445.6" width="1.2" height="10.1" fill="#2e9a2e"/>
<rect x="311.15" y="445.6" width="1.2" height="1.9" fill="#2e9a2e"/>
<rect x="315.12" y="442.8" width="1.2" height="2.8" fill="#2e9a2e"/>
<rect x="319.08" y="440.9" width="1.2" height="4.7" fill="#2e9a2e"/>
<rect x="323.04" y="431.5" width="1.2" height="14.1" fill="#2e9a2e"/>
<rect x="327.01" y="417.3" width="1.2" height="28.3" fill="#2e9a2e"/>
<rect x="330.97" y="405.4" width="1.2" height="40.2" fill="#2e9a2e"/>
<rect x="334.93" y="401.8" width="1.2" height="43.8" fill="#2e9a2e"/>
<rect x="338.90" y="406.5" width="1.2" height="39.1" fill="#2e9a2e"/>
<rect x="342.86" y="412.7" width="1.2" height="32.9" fill="#2e9a2e"/>
<rect x="346.82" y="420.2" width="1.2" height="25.4" fill="#2e9a2e"/>
<rect x="350.79" y="431.3" width="1.2" height="14.3" fill="#2e9a2e"/>
<rect x="354.75" y="442.1" width="1.2" height="3.5" fill="#2e9a2e"/>
<rect x="358.71" y="445.6" width="1.2" height="4.8" fill="#2e9a2e"/>
<rect x="362.68" y="445.6" width="1.2" height="8.7" fill="#2e9a2e"/>
<rect x="366.64" y="445.6" width="1.2" height="10.3" fill="#2e9a2e"/>
<rect x="370.61" y="445.6" width="1.2" height="7.4" fill="#2e9a2e"/>
<rect x="374.57" y="445.6" width="1.2" height="4.9" fill="#2e9a2e"/>
<rect x="378.53" y="445.6" width="1.2" height="3.3" fill="#2e9a2e"/>
<rect x="382.50" y="445.6" width="1.2" height="3.4" fill="#2e9a2e"/>
<rect x="386.46" y="445.6" width="1.2" height="5.5" fill="#2e9a2e"/>
<rect x="390.42" y="445.6" width="1.2" height="7.9" fill="#2e9a2e"/>
<rect x="394.39" y="445.6" width="1.2" height="10.1" fill="#2e9a2e"/>
<rect x="398.35" y="445.6" width="1.2" height="12.4" fill="#2e9a2e"/>
<rect x="402.31" y="445.6" width="1.2" height="10.2" fill="#2e9a2e"/>
<rect x="406.28" y="445.6" width="1.2" height="7.8" fill="#2e9a2e"/>
<rect x="410.24" y="445.6" width="1.2" height="5.2" fill="#2e9a2e"/>
<rect x="414.20" y="445.6" width="1.2" height="2.5" fill="#2e9a2e"/>
<rect x="418.17" y="445.6" width="1.2" height="1.1" fill="#2e9a2e"/>
<rect x="422.13" y="445.6" width="1.2" height="0.8" fill="#2e9a2e"/>
<rect x="426.09" y="444.8" width="1.2" height="0.8" fill="#2e9a2e"/>
<rect x="430.06" y="445.6" width="1.2" height="0.8" fill="#2e9a2e"/>
<rect x="434.02" y="445.6" width="1.2" height="0.8" fill="#2e9a2e"/>
<rect x="437.98" y="445.6" width="1.2" height="1.6" fill="#2e9a2e"/>
<rect x="441.95" y="445.6" width="1.2" height="3.4" fill="#2e9a2e"/>
<rect x="445.91" y="445.6" width="1.2" height="5.6" fill="#2e9a2e"/>
<rect x="449.88" y="445.6" width="1.2" height="5.9" fill="#2e9a2e"/>
<rect x="453.84" y="445.6" width="1.2" height="5.6" fill="#2e9a2e"/>
<rect x="457.80" y="445.6" width="1.2" height="3.1" fill="#2e9a2e"/>
<rect x="461.77" y="445.6" width="1.2" height="0.8" fill="#2e9a2e"/>
<rect x="465.73" y="445.6" width="1.2" height="1.1" fill="#2e9a2e"/>
<rect x="469.69" y="445.6" width="1.2" height="0.8" fill="#2e9a2e"/>
<rect x="473.66" y="444.8" width="1.2" height="0.8" fill="#2e9a2e"/>
<rect x="477.62" y="444.8" width="1.2" height="0.8" fill="#2e9a2e"/>
<rect x="481.58" y="444.1" width="1.2" height="1.5" fill="#2e9a2e"/>
<rect x="485.55" y="443.0" width="1.2" height="2.6" fill="#2e9a2e"/>
<rect x="489.51" y="443.3" width="1.2" height="2.3" fill="#2e9a2e"/>
<rect x="493.47" y="444.8" width="1.2" height="0.8" fill="#2e9a2e"/>
<rect x="497.44" y="445.6" width="1.2" height="2.0" fill="#2e9a2e"/>
<rect x="501.40" y="445.6" width="1.2" height="4.0" fill="#2e9a2e"/>
<rect x="505.36" y="445.6" width="1.2" height="3.9" fill="#2e9a2e"/>
<rect x="509.33" y="445.6" width="1.2" height="2.7" fill="#2e9a2e"/>
<rect x="513.29" y="445.6" width="1.2" height="2.6" fill="#2e9a2e"/>
<rect x="517.25" y="445.6" width="1.2" height="4.0" fill="#2e9a2e"/>
<rect x="521.22" y="445.6" width="1.2" height="5.0" fill="#2e9a2e"/>
<path d="M1.4 444.0 C3.0 443.7 7.6 442.3 11.0 442.0 C14.4 441.7 18.2 441.4 22.0 442.0 C25.8 442.6 29.8 444.5 33.6 445.4 C37.4 446.3 41.3 446.7 45.0 447.6 C48.7 448.5 52.3 449.8 56.0 451.0 C59.7 452.2 63.3 453.9 67.0 455.0 C70.7 456.1 73.8 457.1 78.0 457.4 C82.2 457.7 87.7 456.4 92.0 456.6 C96.3 456.8 99.8 458.1 103.6 458.6 C107.4 459.1 111.3 459.6 115.0 459.7 C118.7 459.8 122.3 459.9 126.0 459.4 C129.7 458.9 133.3 457.7 137.0 456.6 C140.7 455.5 144.2 454.3 148.0 453.0 C151.8 451.7 155.5 450.7 160.0 449.0 C164.5 447.3 169.7 444.1 175.0 442.6 C180.3 441.1 187.3 440.7 192.0 439.8 C196.7 438.9 199.3 438.3 203.0 437.0 C206.7 435.7 210.3 433.7 214.0 432.0 C217.7 430.3 221.2 428.5 225.0 427.0 C228.8 425.5 232.8 424.4 236.6 423.0 C240.4 421.6 244.3 419.7 248.0 418.8 C251.7 417.9 255.3 417.2 259.0 417.4 C262.7 417.6 266.3 417.9 270.0 420.0 C273.7 422.1 278.1 426.5 281.4 430.0 C284.7 433.5 287.2 437.3 290.0 441.0 C292.8 444.7 295.2 449.3 298.0 452.4 C300.8 455.5 303.8 458.2 306.6 459.4 C309.4 460.6 312.2 460.6 315.0 459.4 C317.8 458.2 321.3 454.6 323.4 452.4 C325.5 450.2 326.1 448.8 327.8 446.0 C329.5 443.2 331.5 439.9 333.4 435.6 C335.3 431.3 337.1 424.4 339.0 420.0 C340.9 415.6 342.5 411.8 344.6 409.0 C346.7 406.2 349.5 404.1 351.6 403.4 C353.7 402.7 354.9 403.7 357.0 404.8 C359.1 405.9 361.4 408.2 364.0 409.8 C366.6 411.4 369.8 413.6 372.6 414.6 C375.4 415.6 378.2 415.4 381.0 416.0 C383.8 416.6 386.6 416.7 389.4 418.0 C392.2 419.3 395.0 421.9 397.8 423.8 C400.6 425.7 403.2 427.9 406.0 429.4 C408.8 430.9 411.8 432.2 414.6 432.8 C417.4 433.4 420.2 432.9 423.0 432.8 C425.8 432.7 428.6 431.9 431.4 432.0 C434.2 432.1 437.6 432.7 440.0 433.5 C442.4 434.3 444.0 435.9 446.0 437.0 C448.0 438.1 449.7 439.2 452.0 440.0 C454.3 440.8 457.0 441.5 460.0 442.0 C463.0 442.5 466.7 443.1 470.0 443.0 C473.3 442.9 476.7 442.0 480.0 441.6 C483.3 441.2 487.0 440.7 490.0 440.6 C493.0 440.5 495.3 440.5 498.0 441.0 C500.7 441.5 503.3 442.9 506.0 443.6 C508.7 444.3 511.4 444.4 514.0 445.0 C516.6 445.6 520.4 446.7 521.7 447.0" fill="none" stroke="#ff2a2a" stroke-width="1.1" stroke-dasharray="3 2.2"/>
<path d="M1.4 442.6 C3.0 442.0 8.4 439.6 11.0 439.0 C13.6 438.4 14.2 438.3 17.0 439.0 C19.8 439.7 23.8 441.6 28.0 443.0 C32.2 444.4 37.3 445.8 42.0 447.6 C46.7 449.4 51.8 451.7 56.0 453.8 C60.2 455.9 63.7 458.8 67.0 460.0 C70.3 461.2 72.8 461.2 75.6 460.8 C78.4 460.4 81.3 458.2 84.0 457.4 C86.7 456.6 89.2 455.8 92.0 456.0 C94.8 456.2 98.2 457.5 101.0 458.6 C103.8 459.7 106.2 461.9 109.0 462.5 C111.8 463.1 114.8 463.2 117.6 462.5 C120.4 461.8 123.3 459.4 126.0 458.0 C128.7 456.6 130.7 455.2 134.0 453.8 C137.3 452.4 141.8 451.0 145.6 449.6 C149.4 448.2 153.3 446.7 157.0 445.4 C160.7 444.1 165.0 443.1 168.0 442.0 C171.0 440.9 172.0 439.8 175.0 438.6 C178.0 437.4 182.3 435.3 186.0 435.0 C189.7 434.7 193.2 437.6 197.0 437.0 C200.8 436.4 204.8 433.5 208.6 431.4 C212.4 429.3 216.3 426.4 220.0 424.4 C223.7 422.4 227.8 420.8 231.0 419.6 C234.2 418.4 236.0 418.6 239.0 417.4 C242.0 416.2 245.7 412.6 249.0 412.6 C252.3 412.6 256.0 415.4 259.0 417.4 C262.0 419.4 264.2 421.1 267.0 424.4 C269.8 427.7 273.2 432.8 276.0 437.0 C278.8 441.2 281.7 445.6 284.0 449.6 C286.3 453.6 288.2 456.8 290.0 460.8 C291.8 464.8 293.2 471.0 295.0 473.4 C296.8 475.8 299.1 475.6 301.0 475.4 C302.9 475.2 304.8 474.4 306.6 472.0 C308.4 469.6 309.7 464.5 312.0 460.8 C314.3 457.1 318.4 454.3 320.6 449.6 C322.8 444.9 323.6 439.4 325.0 432.8 C326.4 426.2 327.6 417.0 329.0 410.0 C330.4 403.0 332.0 395.6 333.4 390.8 C334.8 386.0 336.0 383.1 337.6 381.0 C339.2 378.9 341.1 377.8 343.0 378.0 C344.9 378.2 347.1 379.8 348.8 382.4 C350.5 385.0 351.6 389.7 353.0 393.6 C354.4 397.5 355.6 402.3 357.0 406.0 C358.4 409.7 359.7 413.3 361.4 416.0 C363.1 418.7 365.1 421.2 367.0 422.0 C368.9 422.8 370.8 421.5 372.6 421.0 C374.4 420.5 376.1 419.0 378.0 418.8 C379.9 418.6 381.9 419.0 383.8 420.0 C385.7 421.0 387.5 423.0 389.4 425.0 C391.3 427.0 393.4 430.0 395.0 432.0 C396.6 434.0 397.2 436.0 399.0 437.0 C400.8 438.0 403.7 438.0 406.0 437.8 C408.3 437.6 410.7 436.7 413.0 436.0 C415.3 435.3 417.4 434.1 420.0 433.4 C422.6 432.7 425.8 432.0 428.6 432.0 C431.4 432.0 434.7 432.3 437.0 433.4 C439.3 434.5 440.8 436.5 442.6 438.4 C444.4 440.2 445.9 443.2 448.0 444.5 C450.1 445.8 452.7 446.6 455.0 446.4 C457.3 446.1 459.8 443.4 462.0 443.0 C464.2 442.6 465.8 444.2 468.0 444.0 C470.2 443.8 472.7 442.7 475.0 442.0 C477.3 441.3 479.8 440.7 482.0 440.0 C484.2 439.3 486.3 437.8 488.0 437.6 C489.7 437.4 490.3 438.1 492.0 439.0 C493.7 439.9 496.0 441.5 498.0 443.0 C500.0 444.5 502.3 447.3 504.0 448.0 C505.7 448.7 506.5 447.2 508.0 447.0 C509.5 446.8 511.5 446.6 513.0 447.0 C514.5 447.4 515.5 448.8 517.0 449.6 C518.5 450.4 520.9 451.6 521.7 452.0" fill="none" stroke="#2a2aff" stroke-width="1.2"/>
<rect x="2" y="368.6" width="659" height="1.4" fill="#2a0a55" fill-opacity=".75"/>
<rect x="1" y="37.8" width="1.25" height="444.2" fill="#000"/>
<rect x="1" y="37.8" width="660.8" height="1.1" fill="#0a0a0a"/>
<rect x="660.2" y="37.8" width="1.6" height="444.2" fill="#2e2e2e"/>
<rect x="1" y="480.6" width="660.8" height="1.5" fill="#222"/>
<rect x="2.2" y="370.5" width="658.2" height="2.1" fill="#6c6c6c"/>
<path d="M523 38.9h9l-4.5 4.8z" fill="#6f7f90"/>
<path d="M5.6 44.3h6.4l-3.2 3.6z" fill="#000"/>
<text x="17" y="49.7" textLength="213.5" lengthAdjust="spacingAndGlyphs">DOLLAR_INDX,Daily  98.960 99.125 98.957 99.113</text>
<text x="6.5" y="384" textLength="166" lengthAdjust="spacingAndGlyphs">MACD(12,26,9) -0.1304 -0.0388 -0.0915</text>
<text transform="translate(659.3,81.6) scale(0.970,1)" class="p" text-anchor="end">100.0=102.890</text>
<text transform="translate(659.3,258.0) scale(0.970,1)" class="p" text-anchor="end">61.8=97.576</text>
<text transform="translate(659.3,313.0) scale(0.970,1)" class="p" text-anchor="end">50.0=95.935</text>
<text transform="translate(659.3,366.8) scale(0.970,1)" class="p" text-anchor="end">38.2=94.294</text>
<rect x="661.5" y="49.7" width="2.6" height="1.1" fill="#111"/>
<text transform="translate(666.6,53.7) scale(0.940,1)">103.895</text>
<rect x="661.5" y="82.0" width="2.6" height="1.1" fill="#111"/>
<text transform="translate(666.6,86.1) scale(0.940,1)">102.945</text>
<rect x="661.5" y="113.7" width="2.6" height="1.1" fill="#111"/>
<text transform="translate(666.6,117.7) scale(0.940,1)">101.995</text>
<rect x="661.5" y="144.8" width="2.6" height="1.1" fill="#111"/>
<text transform="translate(666.6,148.8) scale(0.940,1)">101.045</text>
<rect x="661.5" y="176.9" width="2.6" height="1.1" fill="#111"/>
<text transform="translate(666.6,181.0) scale(0.940,1)">100.095</text>
<rect x="661.5" y="208.2" width="2.6" height="1.1" fill="#111"/>
<text transform="translate(666.6,212.3) scale(0.940,1)">99.145</text>
<rect x="661.5" y="239.8" width="2.6" height="1.1" fill="#111"/>
<text transform="translate(666.6,243.8) scale(0.940,1)">98.195</text>
<rect x="661.5" y="271.8" width="2.6" height="1.1" fill="#111"/>
<text transform="translate(666.6,275.8) scale(0.940,1)">97.245</text>
<rect x="661.5" y="303.2" width="2.6" height="1.1" fill="#111"/>
<text transform="translate(666.6,307.3) scale(0.940,1)">96.295</text>
<rect x="661.5" y="335.1" width="2.6" height="1.1" fill="#111"/>
<text transform="translate(666.6,339.1) scale(0.940,1)">95.345</text>
<rect x="661.5" y="366.1" width="2.6" height="1.1" fill="#111"/>
<text transform="translate(666.6,370.1) scale(0.940,1)">94.395</text>
<text transform="translate(665.4,381.6) scale(0.940,1)">1.2778</text>
<rect x="661.5" y="445" width="2.6" height="1.1" fill="#111"/><text transform="translate(664.6,449.4) scale(0.940,1)">0.00</text>
<text transform="translate(664.6,477.8) scale(0.940,1)">-0.6288</text>
<rect x="662.2" y="204.8" width="36" height="10" fill="#000"/><text transform="translate(666.6,213.0) scale(0.940,1)" class="w">99.113</text>
<rect x="662.2" y="48.6" width="38" height="10.4" fill="#ff0000"/>
<text transform="translate(666.6,57.3) scale(0.940,1)" class="w">103.772</text>
<rect x="662.2" y="109.2" width="38" height="10.4" fill="#ff0000"/>
<text transform="translate(666.6,117.9) scale(0.940,1)" class="w">101.957</text>
<rect x="662.2" y="152.1" width="38" height="10.4" fill="#ff0000"/>
<text transform="translate(666.6,160.8) scale(0.940,1)" class="w">100.669</text>
<rect x="662.2" y="208.4" width="36" height="10.4" fill="#ff0000"/>
<text transform="translate(666.6,217.1) scale(0.940,1)" class="w">98.965</text>
<rect x="662.2" y="231.8" width="36" height="10.4" fill="#ff0000"/>
<text transform="translate(666.6,240.5) scale(0.940,1)" class="w">98.292</text>
<rect x="1.4" y="481" width="1.1" height="3.6" fill="#111"/>
<text transform="translate(2.2,493.6) scale(0.940,1)">25 Nov 2019</text>
<rect x="64.9" y="481" width="1.1" height="3.6" fill="#111"/>
<text transform="translate(65.0,493.6) scale(0.940,1)">16 Dec 2019</text>
<rect x="128.3" y="481" width="1.1" height="3.6" fill="#111"/>
<text transform="translate(128.4,493.6) scale(0.940,1)">9 Jan 2020</text>
<rect x="191.8" y="481" width="1.1" height="3.6" fill="#111"/>
<text transform="translate(191.9,493.6) scale(0.940,1)">31 Jan 2020</text>
<rect x="255.2" y="481" width="1.1" height="3.6" fill="#111"/>
<text transform="translate(255.3,493.6) scale(0.940,1)">24 Feb 2020</text>
<rect x="318.7" y="481" width="1.1" height="3.6" fill="#111"/>
<text transform="translate(318.8,493.6) scale(0.940,1)">16 Mar 2020</text>
<rect x="382.2" y="481" width="1.1" height="3.6" fill="#111"/>
<text transform="translate(382.2,493.6) scale(0.940,1)">7 Apr 2020</text>
<rect x="445.6" y="481" width="1.1" height="3.6" fill="#111"/>
<text transform="translate(445.7,493.6) scale(0.940,1)">30 Apr 2020</text>
<rect x="509.1" y="481" width="1.1" height="3.6" fill="#111"/>
<text transform="translate(509.1,493.6) scale(0.940,1)">22 May 2020</text>
</svg></body></html>
